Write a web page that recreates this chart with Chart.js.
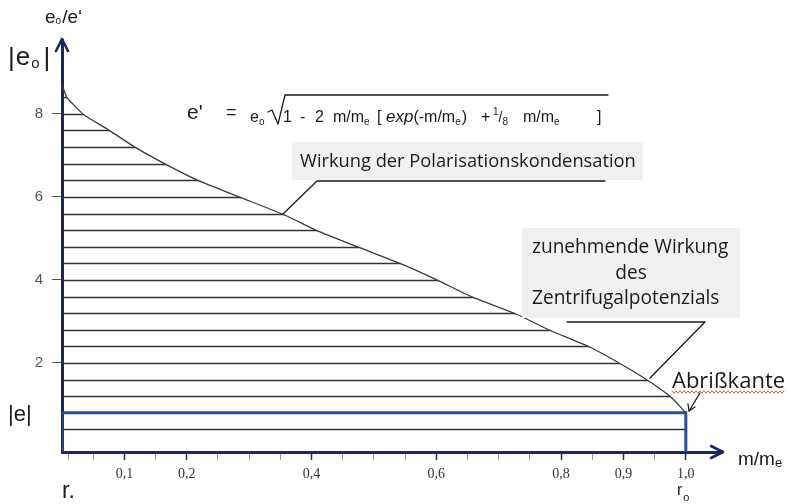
<!doctype html>
<html lang="de">
<head>
<meta charset="utf-8">
<title>e'/e0 über m/me</title>
<script src="https://cdn.jsdelivr.net/npm/chart.js@4.4.1/dist/chart.umd.min.js"></script>
<style>
  html, body { margin: 0; padding: 0; background: #fff; }
  #wrap { position: relative; width: 791px; height: 504px; }
</style>
</head>
<body>
<div id="wrap"><canvas id="c"></canvas></div>
<script>
// --- data ---
var curveX = [0, 0.008, 0.022, 0.035, 0.075, 0.119, 0.168, 0.216, 0.284, 0.356, 0.407,
              0.473, 0.540, 0.601, 0.657, 0.728, 0.780, 0.845, 0.893, 0.938, 0.976, 1.0];
var curveY = [8.70, 8.39, 8.17, 7.98, 7.61, 7.18, 6.77, 6.41, 6.00, 5.57, 5.20,
              4.80, 4.41, 4.00, 3.59, 3.18, 2.80, 2.39, 2.00, 1.59, 1.18, 0.80];

// horizontal hatching levels (every 0.4)
var hatchLevels = [0.4, 1.2, 1.6, 2.0, 2.4, 2.8, 3.2, 3.6, 4.0, 4.4, 4.8, 5.2,
                   5.6, 6.0, 6.4, 6.8, 7.2, 7.6, 8.0, 8.4];

// |e| rectangle
var eLevel = 0.8;
var rEnd = 1.0;

var xMin = 0, xMax = 1.058;
var yMin = -0.145, yMax = 9.78;

var xTickValues = [0.01, 0.05, 0.1, 0.15, 0.2, 0.25, 0.3, 0.35, 0.4, 0.45, 0.5,
                   0.55, 0.6, 0.65, 0.7, 0.75, 0.8, 0.85, 0.9, 0.95, 1.0];
var xLabelValues = [0.1, 0.2, 0.4, 0.6, 0.8, 0.9, 1.0];
var xLabelText = ['0,1', '0,2', '0,4', '0,6', '0,8', '0,9', '1,0'];
var yTickValues = [2, 4, 6, 8];

var NAVY = '#1c2468';
var BLUE = '#2d4c9f';
var INK = '#1a1a1a';

function xLabel(v) {
  for (var i = 0; i < xLabelValues.length; i++) {
    if (Math.abs(xLabelValues[i] - v) < 1e-6) return xLabelText[i];
  }
  return '';
}

// hatch lines under the curve, clipped by the curve
var hatch = {
  id: 'hatch',
  beforeDatasetsDraw: function(chart) {
    var ctx = chart.ctx, area = chart.chartArea;
    var pts = chart.getDatasetMeta(0).data;
    var ys = chart.scales.y;
    ctx.save();
    ctx.beginPath();
    ctx.moveTo(pts[0].x, pts[0].y);
    for (var i = 1; i < pts.length; i++) ctx.lineTo(pts[i].x, pts[i].y);
    ctx.lineTo(pts[pts.length - 1].x, area.bottom);
    ctx.lineTo(pts[0].x, area.bottom);
    ctx.closePath();
    ctx.clip();
    ctx.strokeStyle = '#333';
    ctx.lineWidth = 1.6;
    hatchLevels.forEach(function(v) {
      var y = Math.round(ys.getPixelForValue(v)) + 0.5;
      ctx.beginPath();
      ctx.moveTo(area.left, y);
      ctx.lineTo(area.right, y);
      ctx.stroke();
    });
    ctx.restore();
  }
};

function txt(ctx, s, x, y, font, color, align) {
  ctx.font = font;
  ctx.fillStyle = color || INK;
  ctx.textAlign = align || 'left';
  ctx.textBaseline = 'alphabetic';
  ctx.fillText(s, x, y);
  return x + ctx.measureText(s).width;
}

// text run with sub/superscripts: segs = [[text, font, dy, gapAfter]]
function run(ctx, x, y, segs) {
  segs.forEach(function(s) {
    x = txt(ctx, s[0], x, y + (s[2] || 0), s[1], INK) + (s[3] || 0);
  });
  return x;
}

function fitSize(ctx, s, family, width) {
  ctx.font = '20px ' + family;
  return 20 * width / ctx.measureText(s).width;
}

function line(ctx, pts, w, color) {
  ctx.beginPath();
  ctx.moveTo(pts[0][0], pts[0][1]);
  for (var i = 1; i < pts.length; i++) ctx.lineTo(pts[i][0], pts[i][1]);
  ctx.lineWidth = w;
  ctx.strokeStyle = color;
  ctx.stroke();
}

// labels, formula, callouts, arrows
var notes = {
  id: 'notes',
  afterDraw: function(chart) {
    var ctx = chart.ctx, a = chart.chartArea;
    ctx.save();
    ctx.lineCap = 'round';
    ctx.lineJoin = 'round';

    // axis arrowheads
    line(ctx, [[a.left - 6, a.top + 11], [a.left, a.top - 1], [a.left + 6, a.top + 11]], 2.6, NAVY);
    line(ctx, [[a.right - 11, a.bottom - 6], [a.right + 1, a.bottom], [a.right - 11, a.bottom + 6]], 2.6, NAVY);

    var f = '"Liberation Sans", Arial, sans-serif';

    // y axis title  e_o / e'
    run(ctx, 45, 23, [['e', '19px ' + f], ['o', '10px ' + f, 1, 1], ['/e\u2018', '19px ' + f]]);

    // |e_o|
    run(ctx, 8, 65, [['|', '26px ' + f, 1, 1], ['e', '26px ' + f, 0, 1], ['o', '15px ' + f, 3, 4], ['|', '26px ' + f, 1]]);

    // |e|
    txt(ctx, '|e|', 8, 421, '22px ' + f, INK);

    // r. and r_o
    txt(ctx, 'r.', 62, 498, '23px ' + f, INK);
    run(ctx, 677, 495, [['r', '16px ' + f, 0, 1], ['o', '11px ' + f, 6]]);

    // m/m_e
    run(ctx, 738, 465, [['m/m', '19px ' + f], ['e', '13px ' + f, 2]]);

    // formula  e' = e_o sqrt( 1 - 2 m/m_e [ exp(-m/m_e) + 1/8 m/m_e ] )
    var F = '16px ' + f, S = '10px ' + f;
    txt(ctx, 'e\'', 187, 119, '21px ' + f, INK);
    txt(ctx, '=', 226, 118, '18px ' + f, INK);
    run(ctx, 250, 122, [['e', F], ['o', S, 3]]);
    line(ctx, [[268, 112], [272, 110], [278, 124], [285, 95], [608, 95]], 1.3, INK);
    txt(ctx, '1', 283, 122, F, INK);
    txt(ctx, '-', 300, 122, F, INK);
    txt(ctx, '2', 315, 122, F, INK);
    run(ctx, 333, 122, [['m/m', F], ['e', S, 3]]);
    txt(ctx, '[', 377, 122, F, INK);
    run(ctx, 386, 122, [['exp', 'italic 17px ' + f], ['(-m/m', F], ['e', S, 3, 1], [')', F]]);
    txt(ctx, '+', 481, 122, F, INK);
    run(ctx, 493, 122, [['1', S, -7, 0], ['/', '14px ' + f, 0, 0], ['8', S, 3]]);
    run(ctx, 523, 122, [['m/m', F], ['e', S, 3]]);
    txt(ctx, ']', 597, 122, F, INK);

    // callout 1
    var o = '"Open Sans", "Noto Sans", sans-serif';
    ctx.fillStyle = '#f0f0f0';
    ctx.fillRect(292, 142, 351, 38);
    var s1 = 'Wirkung der Polarisationskondensation';
    var fs1 = fitSize(ctx, s1, o, 336);
    txt(ctx, s1, 300, 167, fs1.toFixed(1) + 'px ' + o, INK);
    line(ctx, [[283, 214], [317, 181], [605, 181]], 1.3, INK);

    // callout 2
    ctx.fillStyle = '#f0f0f0';
    ctx.fillRect(522, 228, 218, 90);
    var s2 = 'zunehmende Wirkung';
    var fs2 = fitSize(ctx, s2, o, 196).toFixed(1) + 'px ' + o;
    txt(ctx, s2, 532, 253, fs2, INK);
    txt(ctx, 'des', 631, 279, fs2, INK, 'center');
    txt(ctx, 'Zentrifugalpotenzials', 532, 304, fs2, INK);
    line(ctx, [[567, 322], [705, 322], [650, 378]], 1.3, INK);

    // Abrißkante
    var s3 = 'Abri\u00dfkante';
    var fs3 = fitSize(ctx, s3, o, 113).toFixed(1) + 'px ' + o;
    txt(ctx, s3, 672, 388, fs3, INK);
    ctx.beginPath();
    for (var x = 672, k = 0; x <= 785; x += 2, k++) {
      var yy = 392 + (k % 2 ? 1.2 : -1.2);
      if (k === 0) ctx.moveTo(x, yy); else ctx.lineTo(x, yy);
    }
    ctx.lineWidth = 0.9;
    ctx.strokeStyle = '#d8404a';
    ctx.stroke();
    line(ctx, [[700, 393], [689, 411]], 1.3, INK);
    line(ctx, [[688, 404], [689, 411], [695, 407]], 1.3, INK);

    ctx.restore();
  }
};

var chart = new Chart(document.getElementById('c'), {
  type: 'scatter',
  data: {
    datasets: [
      {
        data: curveX.map(function(x, i) { return { x: x, y: curveY[i] }; }),
        showLine: true,
        borderColor: '#3a3a3a',
        borderWidth: 1.3,
        pointRadius: 0,
        tension: 0.2
      },
      {
        data: [
          { x: 0, y: yMin }, { x: 0, y: eLevel },
          { x: rEnd, y: eLevel }, { x: rEnd, y: yMin }
        ],
        showLine: true,
        borderColor: BLUE,
        borderWidth: 3,
        pointRadius: 0,
        tension: 0
      }
    ]
  },
  options: {
    responsive: true,
    maintainAspectRatio: false,
    animation: false,
    layout: { padding: { left: 0, right: 69, top: 40, bottom: 0 } },
    plugins: { legend: { display: false }, tooltip: { enabled: false } },
    scales: {
      x: {
        type: 'linear',
        min: xMin,
        max: xMax,
        afterBuildTicks: function(s) { s.ticks = xTickValues.map(function(v) { return { value: v }; }); },
        afterFit: function(s) { s.height = 52; },
        border: { display: true, color: NAVY, width: 3 },
        grid: {
          drawOnChartArea: false,
          drawTicks: true,
          tickLength: 8,
          tickColor: function(c) { return xLabel(c.tick.value) ? '#333' : '#999'; },
          tickWidth: function(c) { return xLabel(c.tick.value) ? 1.5 : 1; }
        },
        ticks: {
          autoSkip: false,
          maxRotation: 0,
          padding: 6,
          color: '#333',
          font: { family: '"Liberation Serif", "DejaVu Serif", serif', size: 14 },
          callback: function(v) { return xLabel(v); }
        }
      },
      y: {
        type: 'linear',
        min: yMin,
        max: yMax,
        afterBuildTicks: function(s) { s.ticks = yTickValues.map(function(v) { return { value: v }; }); },
        afterFit: function(s) { s.width = 62; },
        border: { display: true, color: NAVY, width: 3 },
        grid: {
          drawOnChartArea: false,
          drawTicks: true,
          tickLength: 10,
          tickColor: '#555',
          tickWidth: 1
        },
        ticks: {
          padding: 9,
          color: '#555',
          font: { family: '"Liberation Sans", Arial, sans-serif', size: 15 },
          callback: function(v) { return String(v); }
        }
      }
    }
  },
  plugins: [hatch, notes]
});
</script>
</body>
</html>
